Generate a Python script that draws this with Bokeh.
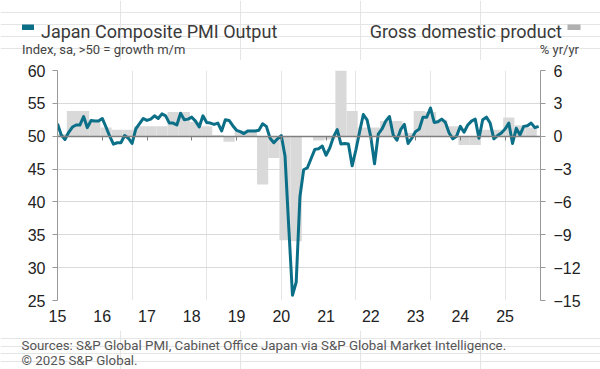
from bokeh.plotting import figure
from bokeh.layouts import column
from bokeh.models import (Range1d, LinearAxis, FixedTicker, Label, BoxAnnotation,
                          ColumnDataSource, Grid, CustomJSTickFormatter)
from bokeh.embed import file_html
from bokeh.resources import INLINE

# ---------------- data ----------------
year_labels = ["15", "16", "17", "18", "19", "20", "21", "22", "23", "24", "25"]

# Japan Composite PMI Output, monthly Jan 2015 - Oct 2025
pmi_2015 = [51.9, 50.2, 49.5, 50.6, 51.4, 51.7, 51.7, 53.0, 51.3, 52.4, 52.3, 52.3]
pmi_2016 = [52.7, 51.4, 50.0, 48.8, 49.0, 49.0, 50.1, 49.7, 48.9, 51.1, 51.9, 52.7]
pmi_2017 = [52.4, 52.6, 53.1, 52.7, 53.4, 53.1, 52.0, 52.0, 51.7, 53.5, 52.5, 52.6]
pmi_2018 = [52.9, 52.3, 51.4, 53.1, 52.1, 52.0, 51.8, 52.0, 50.8, 52.5, 52.4, 51.6]
pmi_2019 = [50.9, 50.7, 50.4, 50.8, 50.8, 50.8, 50.9, 51.9, 51.5, 49.7, 49.0, 49.6]
pmi_2020 = [50.1, 47.0, 36.2, 25.8, 27.8, 40.8, 44.9, 45.2, 46.6, 48.0, 48.1, 48.5]
pmi_2021 = [47.1, 48.2, 49.9, 51.0, 48.8, 48.9, 48.8, 45.5, 47.9, 50.7, 53.3, 52.5]
pmi_2022 = [49.9, 45.8, 50.3, 51.1, 52.3, 53.0, 50.2, 49.4, 51.0, 51.8, 48.9, 49.7]
pmi_2023 = [50.7, 51.1, 52.9, 52.9, 54.3, 52.1, 52.2, 52.6, 52.1, 50.5, 49.6, 50.0]
pmi_2024 = [51.5, 50.6, 51.7, 52.3, 52.6, 49.7, 52.5, 52.9, 52.0, 49.6, 50.1, 50.5]
pmi_2025 = [51.1, 52.0, 48.9, 51.2, 50.2, 51.5, 51.6, 52.0, 51.3, 51.5]
pmi = (pmi_2015 + pmi_2016 + pmi_2017 + pmi_2018 + pmi_2019 + pmi_2020 +
       pmi_2021 + pmi_2022 + pmi_2023 + pmi_2024 + pmi_2025)

# Gross domestic product, % yr/yr, quarterly 2015Q1 - 2025Q3
gdp_2015 = [0.2, 2.3, 2.3, 1.3]
gdp_2016 = [0.8, 0.6, 0.6, 0.9]
gdp_2017 = [0.9, 0.9, 2.2, 2.2]
gdp_2018 = [1.3, 0.9, 0.1, -0.5]
gdp_2019 = [0.5, 0.6, -4.4, -2.0]
gdp_2020 = [-9.5, -9.6, 0.0, -0.4]
gdp_2021 = [-0.3, 7.3, 2.3, 0.8]
gdp_2022 = [0.8, 1.4, 1.4, 0.3]
gdp_2023 = [2.3, 2.2, 1.5, 0.9]
gdp_2024 = [-0.8, -0.8, 0.6, 0.6]
gdp_2025 = [1.7, 1.0, 0.8]
gdp = (gdp_2015 + gdp_2016 + gdp_2017 + gdp_2018 + gdp_2019 + gdp_2020 +
       gdp_2021 + gdp_2022 + gdp_2023 + gdp_2024 + gdp_2025)

pmi_ticks = [25, 30, 35, 40, 45, 50, 55, 60]
gdp_ticks = [-15, -12, -9, -6, -3, 0, 3, 6]

# ---------------- derived positions (month index from Jan 2015) ----------------
months = list(range(len(pmi)))
year_ticks = [12 * i for i in range(len(year_labels))]
q_centers = [3 * i + 1 for i in range(len(gdp))]

TEAL = "#0b6f88"
GREY = "#d9d9d9"
TXT = "#3a3a3a"
TICK_FONT = "Liberation Sans"
HEAD_FONT = "Roboto"
W = 600

# ---------------- main chart ----------------
p = figure(width=W, height=270, output_backend="svg", toolbar_location=None,
           x_range=Range1d(0, 129.5), y_range=Range1d(25, 60),
           x_axis_location=None, y_axis_location=None, frame_align=False,
           min_border_left=57, min_border_right=60, min_border_top=10, min_border_bottom=30)
p.extra_y_ranges = {"gdp": Range1d(-15, 6)}
p.outline_line_color = None

grid = Grid(dimension=1, ticker=FixedTicker(ticks=pmi_ticks),
            grid_line_color="#d9d9d9", grid_line_width=1)
p.add_layout(grid)

bsrc = ColumnDataSource(dict(x=q_centers, top=gdp))
p.vbar(x="x", top="top", bottom=0, width=3, source=bsrc, y_range_name="gdp",
       fill_color=GREY, line_color=None)

lsrc = ColumnDataSource(dict(x=months, y=pmi))
p.line(x="x", y="y", source=lsrc, line_color=TEAL, line_width=3, line_join="round")

def style_axis(ax, size="16px"):
    ax.axis_line_color = "#999999"
    ax.major_tick_line_color = "#999999"
    ax.major_tick_out = 5
    ax.major_tick_in = 0
    ax.minor_tick_line_color = None
    ax.major_label_text_font = TICK_FONT
    ax.major_label_text_font_size = size
    ax.major_label_text_color = "#222222"

la = LinearAxis(ticker=FixedTicker(ticks=pmi_ticks))
style_axis(la)
la.major_label_standoff = 7
p.add_layout(la, "left")

ra = LinearAxis(y_range_name="gdp", ticker=FixedTicker(ticks=gdp_ticks))
style_axis(ra)
ra.major_label_standoff = 8
p.add_layout(ra, "right")

# zero line (PMI 50 / GDP 0) carrying the year ticks
za = LinearAxis(ticker=FixedTicker(ticks=year_ticks), fixed_location=50)
za.axis_line_color = "#7f7f7f"
za.axis_line_width = 1.5
za.major_tick_line_color = "#7f7f7f"
za.major_tick_out = 4
za.major_tick_in = 0
za.minor_tick_line_color = None
za.formatter = CustomJSTickFormatter(code="return ''")
za.major_label_text_font_size = "1px"
za.major_label_standoff = 0
p.add_layout(za, "below")

xa = LinearAxis(ticker=FixedTicker(ticks=year_ticks))
style_axis(xa)
xa.major_label_overrides = {t: lab for t, lab in zip(year_ticks, year_labels)}
xa.axis_line_color = None
xa.major_tick_line_color = None
xa.major_label_standoff = 4
p.add_layout(xa, "below")

# ---------------- header ----------------
def text_fig(h):
    f = figure(width=W, height=h, output_backend="svg", toolbar_location=None,
               x_range=Range1d(0, 1), y_range=Range1d(0, 1), frame_align=False,
               x_axis_location=None, y_axis_location=None, min_border=0)
    f.outline_line_color = None
    return f

HEAD_H = 60
head = text_fig(HEAD_H)

def add_label(fig, h, text, ix, iy, size, color=TXT, align="left", font=HEAD_FONT):
    fig.add_layout(Label(x=ix, y=h - iy, x_units="screen", y_units="screen",
                         text=text, text_font=font, text_font_size=size,
                         text_color=color, text_align=align, text_baseline="alphabetic"))

def add_key(fig, h, ix0, ix1, iy0, iy1, color):
    fig.add_layout(BoxAnnotation(left=ix0, right=ix1, top=h - iy0, bottom=h - iy1,
                                 left_units="screen", right_units="screen",
                                 top_units="screen", bottom_units="screen",
                                 fill_color=color, fill_alpha=1, line_color=None))

add_key(head, HEAD_H, 21.5, 33.5, 24, 29.5, TEAL)
add_label(head, HEAD_H, "Japan Composite PMI Output", 40.5, 30.8, "18px")
add_label(head, HEAD_H, "Index, sa, >50 = growth m/m", 21.5, 49, "13px", color="#444444")
add_label(head, HEAD_H, "Gross domestic product", 561.5, 30.8, "18px", align="right")
add_key(head, HEAD_H, 567, 580, 24, 29.5, "#b0b0b0")
add_label(head, HEAD_H, "% yr/yr", 578.5, 49, "13px", color="#444444", align="right")

# ---------------- footer ----------------
FOOT_TOP = 330
FOOT_H = 369 - FOOT_TOP
foot = text_fig(FOOT_H)
add_label(foot, FOOT_H, "Sources: S&P Global PMI, Cabinet Office Japan via S&P Global Market Intelligence.",
          21, 344.5 - FOOT_TOP, "13.3px", color="#555555")
add_label(foot, FOOT_H, "\u00a9 2025 S&P Global.", 21, 359.5 - FOOT_TOP, "13.3px", color="#555555")

layout = column(head, p, foot, spacing=0)
open("out.html", "w").write(file_html(layout, INLINE))
